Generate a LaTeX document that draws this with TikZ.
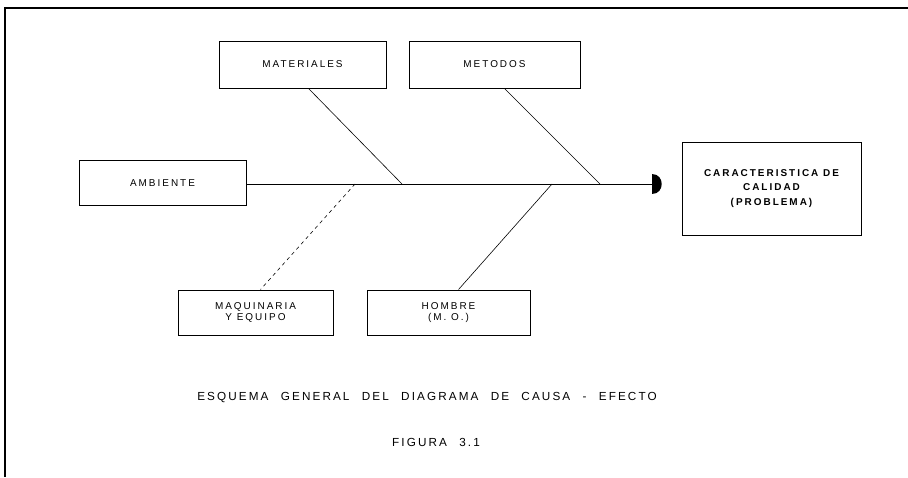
\documentclass[tikz,border=0pt]{standalone}
\usepackage{fontspec}
\newfontfamily\plotfont[LetterSpace=20]{Liberation Sans}
\newfontfamily\capfont[LetterSpace=18,WordSpace=2.3]{Liberation Sans}
\begin{document}
\begin{tikzpicture}[x=0.03cm,y=-0.03cm,
  box/.style={draw,line width=0.8pt,inner sep=0pt,align=center,
    font=\plotfont\fontsize{8.5}{10}\selectfont},
  bone/.style={line width=0.5pt},
  caption/.style={font=\capfont\fontsize{10}{12}\selectfont}]
\useasboundingbox (0,0) rectangle (908,477);
% frame
\draw[line width=1.4pt] (908,8) -- (5,8) -- (5,477);
% cause boxes
\node[box,minimum width=5.01cm,minimum height=1.41cm] (mat) at (302.5,64.5) {MATERIALES};
\node[box,minimum width=5.13cm,minimum height=1.41cm] (met) at (494.5,64.5) {METODOS};
\node[box,minimum width=5.01cm,minimum height=1.35cm] (amb) at (162.5,183) {AMBIENTE};
\node[box,minimum width=4.65cm,minimum height=1.35cm] (maq) at (255.5,312.5) {MAQUINARIA\\Y EQUIPO};
\node[box,minimum width=4.89cm,minimum height=1.35cm] (hom) at (448.5,312.5) {HOMBRE\\(M. O.)};
\node[box,minimum width=5.37cm,minimum height=2.79cm,
  font=\plotfont\bfseries\fontsize{8.5}{12}\selectfont] (car) at (771.5,188.5)
  {CARACTERISTICA DE\\CALIDAD\\(PROBLEMA)};
% spine
\coordinate (tip) at (652,184);
\coordinate (jmat) at (402,184);
\coordinate (jmet) at (600,184);
\coordinate (jmaq) at (355,184);
\coordinate (jhom) at (552,184);
\draw[line width=0.8pt] (amb.east |- tip) -- (tip);
\fill (652,174) .. controls (665.3,174) and (665.3,194) .. (652,194) -- cycle;
% bones
\draw[bone] ([xshift=0.18cm]mat.south) -- (jmat);
\draw[bone] ([xshift=0.3cm]met.south) -- (jmet);
\draw[bone,dash pattern=on 3pt off 3pt] (jmaq) -- ([xshift=0.15cm]maq.north);
\draw[bone] (jhom) -- ([xshift=0.3cm]hom.north);
% caption
\node[caption] (title) at (427,398) {ESQUEMA GENERAL DEL DIAGRAMA DE CAUSA - EFECTO};
\node[caption] (fig) at (436,442) {FIGURA 3.1};
\end{tikzpicture}
\end{document}
